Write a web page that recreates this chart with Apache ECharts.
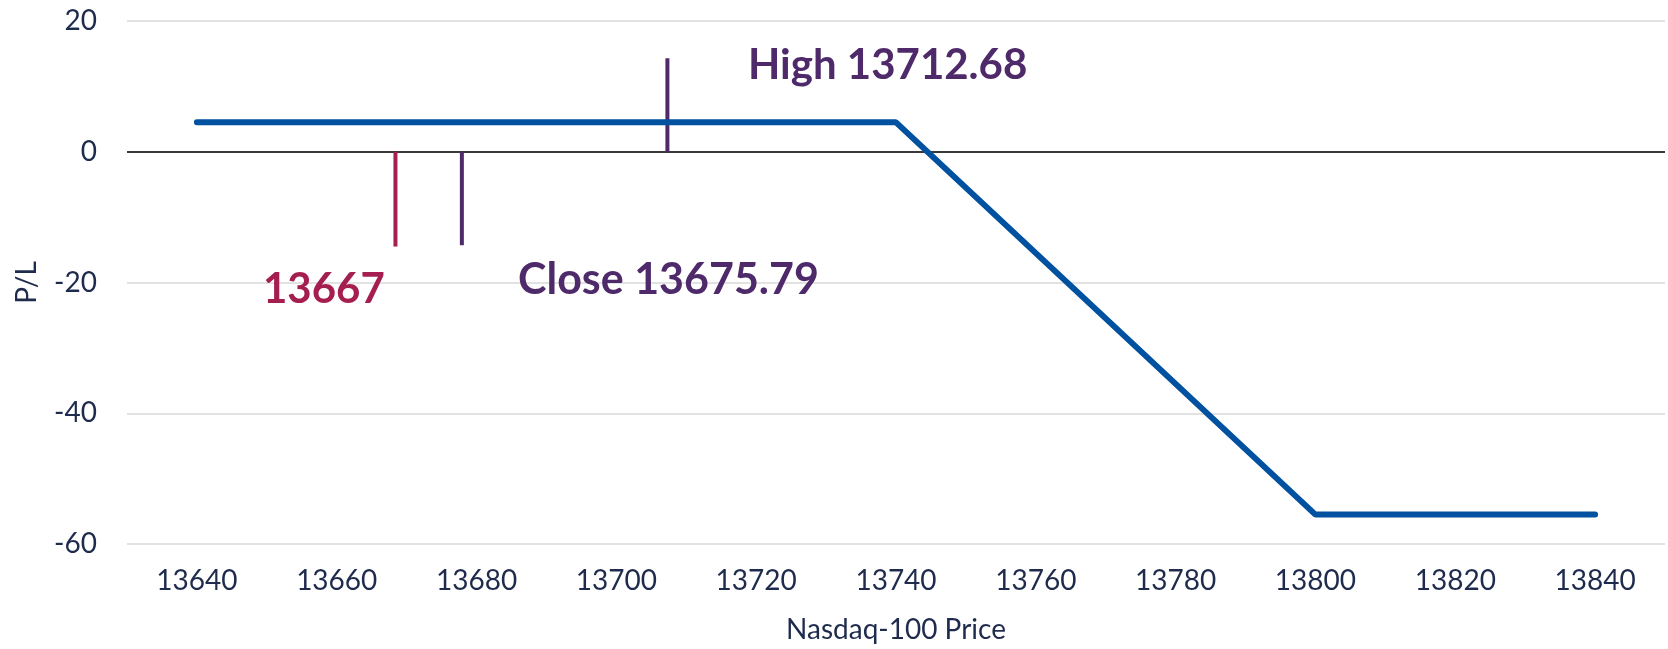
<!DOCTYPE html>
<html>
<head>
<meta charset="utf-8">
<script src="https://cdn.jsdelivr.net/npm/echarts@6/dist/echarts.min.js"></script>
<style>
  html, body { margin: 0; padding: 0; background: #fff; }
  #chart { width: 1668px; height: 649px; }
</style>
</head>
<body>
<div id="chart"></div>
<script>
// payoff profile
const prices = [13640, 13740, 13800, 13840]
const pnl = [4.5, 4.5, -55.5, -55.5]

// marker lines (x position, end value)
const markerLow = [13668.4, -14.5]
const markerClose = [13677.9, -14.3]
const markerHigh = [13707.3, 14.3]

const labelColor = '#1f2b4d'
const blue = '#0052a0'
const red = '#a51e50'
const purple = '#4e2a6b'
const font = 'Lato'

const chart = echarts.init(document.getElementById('chart'))

function markerSeries(m, color) {
  return {
    type: 'line',
    data: [[m[0], 0], [m[0], m[1]]],
    symbol: 'none',
    silent: true,
    lineStyle: { color, width: 4 },
    z: 3
  }
}

chart.setOption({
  animation: false,
  textStyle: { fontFamily: font },
  grid: { left: 127, right: 0, top: 21, bottom: 103 },
  xAxis: {
    type: 'value',
    min: 13630,
    max: 13850,
    interval: 10,
    name: 'Nasdaq-100 Price',
    nameLocation: 'middle',
    nameGap: 72,
    nameTextStyle: { color: labelColor, fontSize: 28, fontFamily: font },
    axisLine: { show: false },
    axisTick: { show: false },
    splitLine: { show: false },
    axisLabel: {
      color: labelColor,
      fontSize: 28,
      margin: 23,
      formatter: v => ((v - 13640) % 20 === 0 ? String(v) : '')
    }
  },
  yAxis: {
    type: 'value',
    min: -60,
    max: 20,
    interval: 20,
    name: 'P/L',
    nameLocation: 'middle',
    nameGap: 86,
    nameTextStyle: { color: labelColor, fontSize: 28, fontFamily: font },
    axisLine: { show: false },
    axisTick: { show: false },
    splitLine: { lineStyle: { color: '#d9d9d9', width: 1.5 } },
    axisLabel: { color: labelColor, fontSize: 28, margin: 30 }
  },
  series: [
    {
      type: 'line',
      data: prices.map((p, i) => [p, pnl[i]]),
      symbol: 'none',
      silent: true,
      lineStyle: { color: blue, width: 6, cap: 'round' },
      z: 4,
      markLine: {
        silent: true,
        symbol: 'none',
        label: { show: false },
        lineStyle: { color: '#000', width: 1.5, type: 'solid' },
        data: [{ yAxis: 0 }],
        z: 2
      }
    },
    markerSeries(markerLow, red),
    markerSeries(markerClose, purple),
    markerSeries(markerHigh, purple)
  ],
  graphic: [
    {
      type: 'text', left: 748, top: 44, z: 100,
      style: { text: 'High 13712.68', fill: purple, font: `bold 42px ${font}` }
    },
    {
      type: 'text', left: 263, top: 268, z: 100,
      style: { text: '13667', fill: red, font: `bold 42px ${font}` }
    },
    {
      type: 'text', left: 518, top: 259, z: 100,
      style: { text: 'Close 13675.79', fill: purple, font: `bold 43px ${font}` }
    }
  ]
})
</script>
</body>
</html>
